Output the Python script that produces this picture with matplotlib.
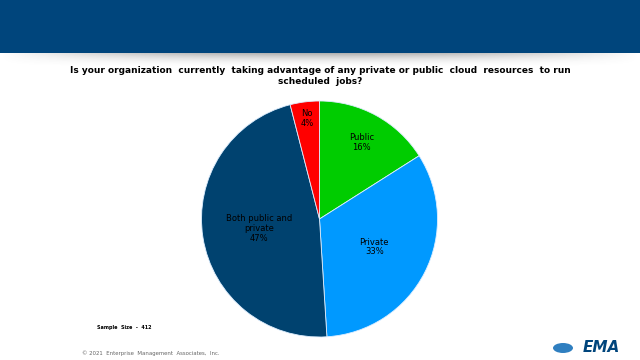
import matplotlib
matplotlib.use("Agg")
import matplotlib.pyplot as plt
import numpy as np
from matplotlib.patches import Rectangle, Ellipse

labels = ["Public", "Private", "Both public and\nprivate", "No"]
values = [16, 33, 47, 4]
colors = ["#00CC00", "#0099FF", "#00426F", "#FF0000"]
label_dist = [0.74, 0.52, 0.52, 0.86]

title = ("Is your organization  currently  taking advantage of any private or public  cloud  resources  to run\n"
         "scheduled  jobs?")

fig = plt.figure(figsize=(6.4, 3.6), dpi=100)
fig.patch.set_facecolor("white")

# header band
fig.patches.append(Rectangle((0, 1 - 53/360), 1, 53/360, transform=fig.transFigure,
                             facecolor="#00457C", edgecolor="none", zorder=0))
# shadow under header
sax = fig.add_axes([0, 1 - 68/360, 1, 15/360])
sax.axis("off")
xx = np.linspace(-1, 1, 400)
yy = np.linspace(0, 1, 40)
X, Y = np.meshgrid(xx, yy)
alpha = (1 - Y) ** 2 * np.clip(1 - np.abs(X) ** 2, 0, 1) * 0.45
img = np.zeros((40, 400, 4))
img[..., :3] = 0.3
img[..., 3] = alpha
sax.imshow(img, aspect="auto", extent=[0, 1, 0, 1], origin="upper")
sax.set_xlim(0, 1); sax.set_ylim(0, 1)

fig.text(0.5, 1 - 76/360, title, ha="center", va="center", fontsize=6.5,
         fontweight="bold", color="#000000", linespacing=1.15)

# pie
ax = fig.add_axes([201.5/640, 23/360, 236/640, 236/360])
wedges, _ = ax.pie(values, colors=colors, startangle=90, counterclock=False,
                   wedgeprops=dict(edgecolor="#DDEEFF", linewidth=0.6))
ax.set_xlim(-1, 1); ax.set_ylim(-1, 1)
ax.set_aspect("equal")
for w, lab, v, d in zip(wedges, labels, values, label_dist):
    ang = np.deg2rad((w.theta1 + w.theta2) / 2)
    ax.text(d * np.cos(ang), d * np.sin(ang), f"{lab}\n{v}%", ha="center", va="center",
            fontsize=6, color="#000000", linespacing=1.1)

# footer
fig.text(97/640, 1 - 327/360, "Sample  Size  -  412", fontsize=3.5, fontweight="bold",
         color="#000000", va="center")
fig.text(82/640, 1 - 353/360, "© 2021  Enterprise  Management  Associates,  Inc.", fontsize=3.9,
         color="#666666", va="center")

# logo
fig.patches.append(Ellipse((563/640, 1 - 348/360), 20/640, 10/360, transform=fig.transFigure,
                           facecolor="#2F7FC0", edgecolor="none", angle=0))
fig.text(601/640, 1 - 348/360, "EMA", fontsize=11, fontweight="bold", fontstyle="italic",
         color="#00457C", ha="center", va="center")

fig.savefig("out.png", dpi=100, facecolor="white")
